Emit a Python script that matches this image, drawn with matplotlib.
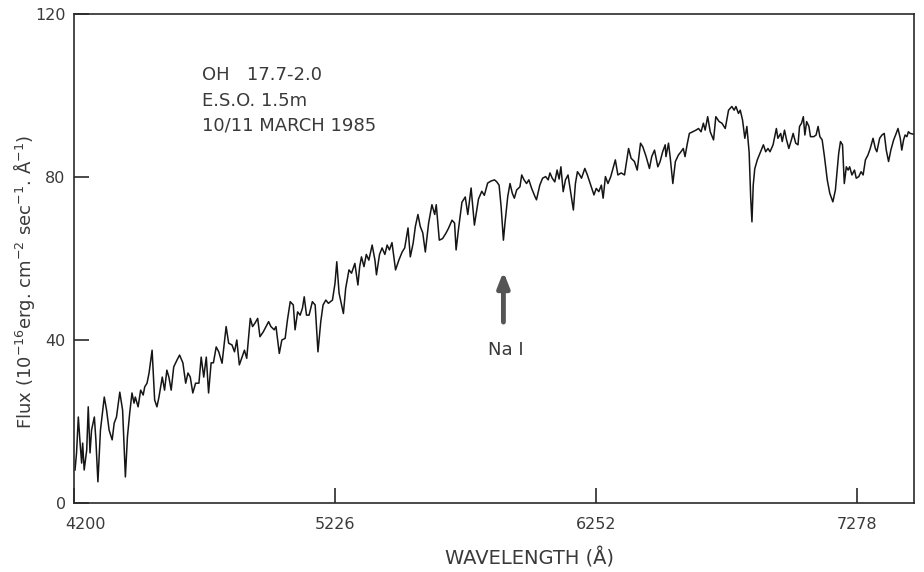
import matplotlib
matplotlib.use('Agg')
import matplotlib.pyplot as plt
import matplotlib.transforms as mtransforms

# spectrum (wavelength in A, flux in 1e-16 erg cm-2 s-1 A-1)
wavelength = [
    4204, 4210, 4217, 4223, 4230, 4234, 4240, 4250, 4256, 4263, 4269, 4280,
    4286, 4294, 4304, 4319, 4328, 4338, 4350, 4358, 4367, 4380, 4391, 4402,
    4410, 4419, 4428, 4436, 4441, 4452, 4462, 4472, 4478, 4487, 4495, 4507,
    4517, 4526, 4534, 4547, 4556, 4565, 4573, 4582, 4592, 4605, 4615, 4628,
    4639, 4648, 4657, 4667, 4678, 4691, 4700, 4710, 4720, 4729, 4739, 4748,
    4759, 4769, 4782, 4798, 4808, 4821, 4831, 4840, 4850, 4861, 4870, 4879,
    4893, 4902, 4911, 4922, 4931, 4944, 4955, 4965, 4974, 4987, 4994, 5007,
    5017, 5030, 5039, 5050, 5062, 5069, 5079, 5089, 5098, 5105, 5114, 5124,
    5137, 5148, 5159, 5170, 5179, 5190, 5200, 5216, 5226, 5233, 5242, 5259,
    5268, 5281, 5291, 5304, 5316, 5323, 5330, 5340, 5349, 5359, 5372, 5383,
    5389, 5401, 5411, 5422, 5431, 5440, 5450, 5464, 5477, 5490, 5500, 5513,
    5522, 5533, 5542, 5552, 5561, 5571, 5581, 5594, 5607, 5618, 5624, 5636,
    5649, 5662, 5672, 5686, 5696, 5702, 5712, 5725, 5738, 5748, 5761, 5774,
    5790, 5803, 5813, 5826, 5839, 5853, 5862, 5871, 5879, 5888, 5894, 5905,
    5914, 5923, 5931, 5940, 5953, 5960, 5969, 5979, 5988, 5999, 6012, 6018,
    6031, 6042, 6054, 6064, 6071, 6080, 6090, 6099, 6107, 6114, 6123, 6132,
    6142, 6152, 6163, 6171, 6179, 6188, 6195, 6208, 6218, 6227, 6244, 6253,
    6263, 6273, 6280, 6289, 6299, 6310, 6319, 6328, 6338, 6351, 6364, 6371,
    6380, 6390, 6403, 6414, 6427, 6436, 6449, 6462, 6471, 6482, 6495, 6504,
    6514, 6524, 6527, 6537, 6544, 6554, 6564, 6576, 6586, 6595, 6602, 6610,
    6619, 6632, 6645, 6655, 6665, 6674, 6681, 6691, 6701, 6714, 6723, 6736,
    6747, 6760, 6773, 6786, 6795, 6802, 6812, 6819, 6828, 6837, 6845, 6854,
    6860, 6865, 6870, 6876, 6886, 6899, 6910, 6919, 6928, 6936, 6948, 6961,
    6967, 6978, 6984, 6993, 7001, 7010, 7020, 7027, 7037, 7046, 7052, 7060,
    7067, 7073, 7080, 7089, 7095, 7108, 7117, 7125, 7132, 7141, 7150, 7161,
    7171, 7183, 7193, 7200, 7206, 7213, 7221, 7228, 7236, 7243, 7249, 7258,
    7268, 7275, 7285, 7294, 7302, 7311, 7321, 7330, 7341, 7350, 7356, 7367,
    7376, 7385, 7393, 7402, 7411, 7422, 7432, 7439, 7448, 7454, 7461, 7467,
    7474, 7480, 7487, 7500,
]
flux = [
    8.1, 12.3, 21.1, 15.5, 9.8, 14.7, 8.1, 13.0, 23.6, 12.3, 17.9, 21.1,
    15.5, 5.2, 17.9, 26.0, 22.8, 17.9, 15.5, 19.6, 21.1, 27.2, 22.8, 6.4,
    16.2, 22.1, 27.0, 24.5, 26.0, 23.6, 27.7, 26.5, 28.5, 29.4, 31.9, 37.5,
    25.3, 23.6, 26.0, 30.9, 27.7, 32.6, 30.9, 27.7, 33.4, 35.1, 36.3, 34.4,
    29.4, 31.9, 30.9, 27.0, 29.4, 29.4, 35.8, 30.9, 35.8, 27.0, 34.4, 34.4,
    38.3, 37.1, 34.3, 43.3, 39.2, 38.8, 37.1, 40.0, 33.9, 35.9, 37.5, 35.5,
    45.3, 43.3, 44.1, 45.3, 40.8, 42.0, 43.3, 44.5, 43.3, 42.5, 43.3, 36.7,
    40.0, 40.4, 44.9, 49.4, 48.6, 42.5, 46.9, 46.1, 47.8, 50.6, 46.1, 46.1,
    49.4, 48.6, 37.1, 44.5, 48.6, 49.8, 49.0, 49.8, 53.9, 59.2, 51.5, 46.5,
    52.7, 57.2, 56.4, 58.8, 53.5, 58.0, 60.4, 58.0, 61.0, 59.6, 63.3, 59.6,
    56.0, 61.0, 62.6, 61.0, 63.3, 62.1, 63.9, 57.2, 59.6, 61.6, 62.6, 67.5,
    60.4, 63.7, 67.9, 70.8, 67.9, 66.3, 61.6, 68.7, 73.2, 70.8, 73.2, 64.5,
    64.9, 66.2, 67.4, 69.4, 68.7, 62.1, 67.5, 73.8, 75.1, 70.8, 77.3, 68.2,
    74.6, 76.5, 75.5, 78.5, 79.0, 79.3, 78.8, 78.0, 72.7, 64.5, 68.6, 75.2,
    78.4, 76.0, 74.8, 76.8, 77.6, 80.5, 79.3, 78.4, 79.3, 77.2, 75.2, 74.4,
    78.0, 79.7, 80.1, 79.3, 81.0, 79.7, 78.8, 81.7, 79.5, 82.5, 76.4, 79.3,
    80.5, 76.4, 71.9, 78.4, 81.3, 80.5, 79.7, 82.1, 80.5, 78.8, 75.6, 77.2,
    76.4, 78.0, 74.8, 80.1, 78.4, 80.1, 82.1, 84.2, 80.5, 81.0, 80.5, 83.4,
    87.0, 84.6, 83.8, 81.7, 88.3, 87.4, 85.0, 82.1, 85.0, 86.6, 82.5, 83.8,
    86.2, 87.9, 85.0, 88.3, 84.6, 78.4, 83.8, 85.4, 86.2, 87.0, 85.0, 87.9,
    90.7, 91.1, 91.5, 91.9, 91.1, 93.2, 91.5, 94.8, 91.1, 89.1, 94.8, 93.6,
    93.2, 91.9, 96.4, 97.3, 96.4, 97.3, 95.6, 96.4, 94.0, 89.5, 92.4, 86.0,
    75.0, 69.0, 78.0, 82.0, 84.2, 86.2, 87.9, 86.2, 87.0, 86.2, 87.9, 91.9,
    89.5, 90.7, 88.7, 91.5, 89.1, 87.0, 89.1, 90.7, 88.3, 87.9, 92.4, 93.2,
    94.8, 90.3, 93.6, 92.4, 89.9, 89.9, 90.3, 92.4, 89.9, 89.1, 85.0, 79.3,
    76.0, 73.9, 76.8, 81.7, 85.8, 88.7, 87.9, 78.4, 82.5, 81.7, 82.5, 80.5,
    81.7, 79.7, 80.1, 81.3, 80.5, 84.2, 85.4, 87.0, 89.5, 87.0, 86.2, 89.5,
    90.3, 90.7, 86.6, 83.8, 86.6, 89.1, 90.7, 91.9, 89.5, 86.6, 89.1, 90.3,
    89.9, 91.1, 90.7, 90.5,
]

x_ticks = [4200, 5226, 6252, 7278]
y_ticks = [0, 40, 80, 120]
info_lines = ['OH   17.7-2.0', 'E.S.O. 1.5m', '10/11 MARCH 1985']
na_wave = 5888

INK = '#2a2a2a'
TXT = '#3a3a3a'

fig = plt.figure(figsize=(9.24, 5.72), dpi=100)
ax = fig.add_axes([74 / 924, 1 - 503 / 572, 840 / 924, 489 / 572])

ax.plot(wavelength, flux, color='#151515', lw=1.1)

ax.set_xlim(4200, 7502)
ax.set_ylim(0, 120)
ax.set_xticks(x_ticks)
ax.set_yticks(y_ticks)
ax.tick_params(direction='in', length=11, width=1.2, colors=INK,
               labelcolor=TXT, labelsize=11.5)
ax.tick_params(axis='x', pad=10)
ax.tick_params(axis='y', pad=6)
for sp in ax.spines.values():
    sp.set_linewidth(1.2)
    sp.set_color(INK)

ax.set_ylabel(r'Flux (10$^{-16}$erg. cm$^{-2}$ sec$^{-1}$. Å$^{-1}$)',
              fontsize=13, color=TXT)
ax.yaxis.set_label_coords(-0.044, 0.452)
ax.set_xlabel('WAVELENGTH (Å)', fontsize=14, color=TXT)
ax.xaxis.set_label_coords(0.542, -0.092)

# observation info, top left
for i, line in enumerate(info_lines):
    ax.text(0.152, 0.875 - i * 0.052, line, transform=ax.transAxes,
            fontsize=13, color=TXT, ha='left', va='center')

# Na I marker
ax.annotate('', xy=(na_wave, 56.8), xytext=(na_wave, 44.4),
            arrowprops=dict(arrowstyle='-|>,head_width=0.35,head_length=0.9',
                            lw=3.5, color='#555555', shrinkA=0, shrinkB=0))
ax.text(na_wave + 10, 37.5, 'Na I', fontsize=13, color=TXT,
        ha='center', va='center')

# first x label sits to the right of the corner
lbl = ax.get_xticklabels()[0]
lbl.set_transform(lbl.get_transform() +
                  mtransforms.ScaledTranslation(12 / 100, 0, fig.dpi_scale_trans))

fig.savefig('out.png', dpi=100)
